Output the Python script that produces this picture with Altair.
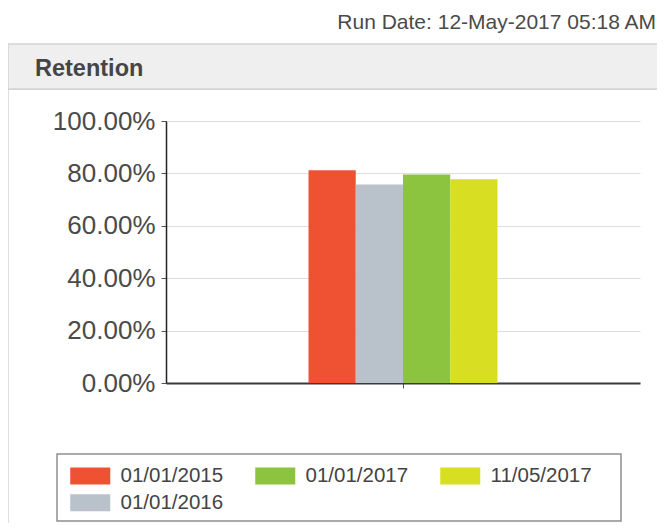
import altair as alt
import pandas as pd

# ---- data ----
categories = ["Retention"]
dates = ["01/01/2015", "01/01/2016", "01/01/2017", "11/05/2017"]
retention = [0.812, 0.758, 0.796, 0.778]
colors = ["#ef5232", "#b9c1cb", "#8cc43f", "#d8df22"]
# order given to the legend (Vega's grid fills so that this reads
# 01/01/2015, 01/01/2017, 11/05/2017 / 01/01/2016 on screen)
legend_order = ["01/01/2015", "11/05/2017", "01/01/2017", "01/01/2016"]
y_ticks = [0.0, 0.2, 0.4, 0.6, 0.8, 1.0]
panel_title = ["Retention"]
run_date = ["Run Date: 12-May-2017  05:18 AM"]

FONT = "Liberation Sans"

df = pd.DataFrame({
    "category": categories * len(dates),
    "date": dates,
    "value": retention,
})
color_map = dict(zip(dates, colors))
legend_colors = [color_map[d] for d in legend_order]

one = pd.DataFrame({"k": [0]})

# ---- decorations (panel frame, header, legend box, texts) ----
body = alt.Chart(one).mark_rect(fill="white", fillOpacity=0, stroke="#d4d4d4", strokeWidth=1.5).encode(
    x=alt.value(-158), x2=alt.value(540), y=alt.value(-32), y2=alt.value(450)
)
header = alt.Chart(one).mark_rect(fill="#efefef", stroke="#d4d4d4", strokeWidth=1.5).encode(
    x=alt.value(-158), x2=alt.value(540), y=alt.value(-77), y2=alt.value(-32)
)
title_txt = alt.Chart(pd.DataFrame({"t": panel_title})).mark_text(
    align="left", baseline="alphabetic", font=FONT, fontSize=23.5, fontWeight="bold", color="#454545"
).encode(x=alt.value(-131), y=alt.value(-45), text="t:N")
run_txt = alt.Chart(pd.DataFrame({"t": run_date})).mark_text(
    align="right", baseline="alphabetic", font=FONT, fontSize=21, color="#4a4a4a"
).encode(x=alt.value(490), y=alt.value(-92), text="t:N")
legend_box = alt.Chart(one).mark_rect(fill="white", stroke="#8f8f8f", strokeWidth=1.5).encode(
    x=alt.value(-109), x2=alt.value(455), y=alt.value(333), y2=alt.value(400)
)

# ---- bars ----
bars = alt.Chart(df).mark_bar().encode(
    x=alt.X(
        "category:N",
        title=None,
        scale=alt.Scale(paddingInner=0, paddingOuter=0.754),
        axis=alt.Axis(labels=False, ticks=True, tickSize=5, tickColor="#555",
                      domainColor="#3a3a3a", domainWidth=2, grid=False),
    ),
    xOffset=alt.XOffset("date:N", sort=dates, scale=alt.Scale(paddingInner=0, paddingOuter=0)),
    y=alt.Y(
        "value:Q",
        title=None,
        scale=alt.Scale(domain=[0, 1], nice=False),
        axis=alt.Axis(values=y_ticks, format=".2%", labelFontSize=26, labelFont=FONT,
                      labelColor="#4a4a4a", labelPadding=6, tickSize=5, tickColor="#555",
                      domainColor="#222", domainWidth=1.5, gridColor="#dedede", gridWidth=1.2),
    ),
    color=alt.Color(
        "date:N",
        scale=alt.Scale(domain=legend_order, range=legend_colors),
        legend=alt.Legend(
            orient="none", legendX=-86, legendY=344.5, columns=3, title=None,
            values=legend_order,
            symbolType="M-2,-0.85H2V0.85H-2Z", symbolSize=400, symbolStrokeWidth=0,
            labelFontSize=20.5, labelFont=FONT, labelColor="#444", labelOffset=20,
            columnPadding=31, rowPadding=6, padding=0,
        ),
    ),
)

chart = alt.layer(body, header, title_txt, run_txt, legend_box, bars).properties(
    width=474,
    height=262,
    padding={"left": 158, "top": 113, "right": 17, "bottom": 140},
    autosize=alt.AutoSizeParams(type="none"),
    background="white",
).configure_view(stroke=None)

chart.save("out.html", embed_options={"renderer": "svg", "actions": False})
